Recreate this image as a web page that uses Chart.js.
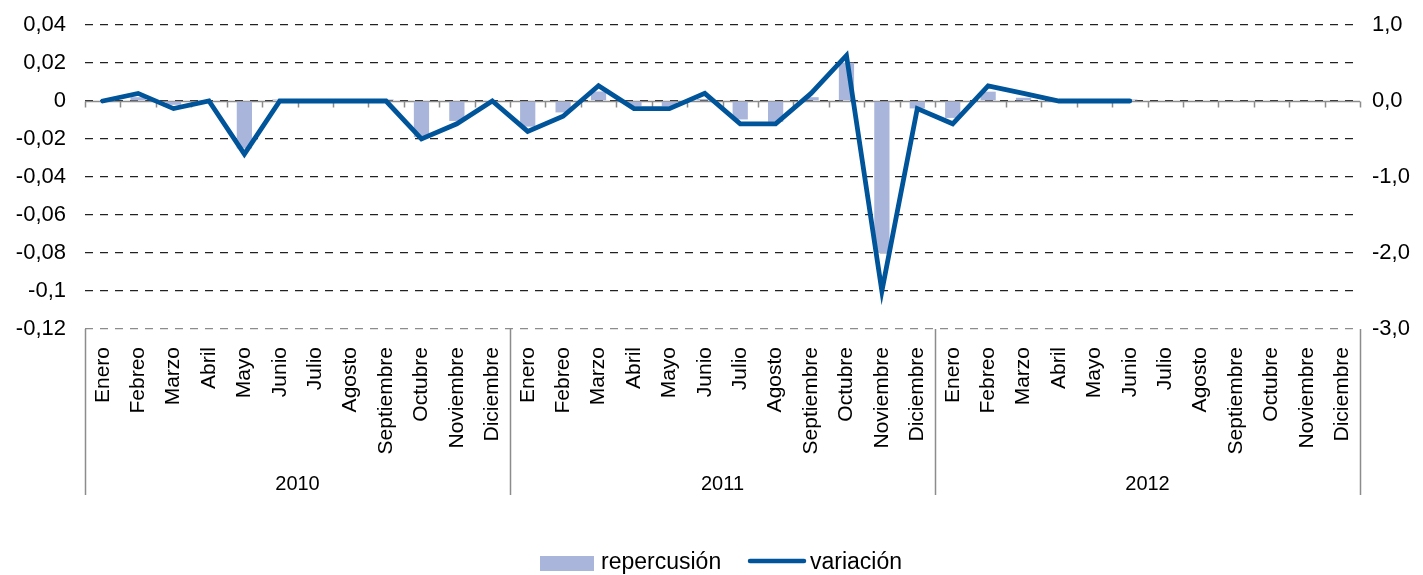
<!DOCTYPE html>
<html>
<head>
<meta charset="utf-8">
<script src="https://cdn.jsdelivr.net/npm/chart.js@4"></script>
<style>
    html, body { margin: 0; padding: 0; background: #fff; }
    #wrap { width: 1423px; height: 575px; }
</style>
</head>
<body>
<div id="wrap"><canvas id="precioChart"></canvas></div>
<script>
const years = ['2010', '2011', '2012'];
const months = ['Enero', 'Febreo', 'Marzo', 'Abril', 'Mayo', 'Junio', 'Julio', 'Agosto', 'Septiembre', 'Octubre', 'Noviembre', 'Diciembre'];

const repercusion = [
    0, 0.002, -0.002, 0, -0.025, 0.0008, 0.0008, 0.0008, 0.0008, -0.019, -0.0105, 0,
    -0.0135, -0.006, 0.005, -0.0027, -0.0027, 0.001, -0.0097, -0.011, 0.002, 0.0202, -0.08, -0.0039,
    -0.0089, 0.0049, 0.0017, 0, 0, 0.0008, null, null, null, null, null, null
];

const variacion = [
    0, 0.1, -0.1, 0, -0.7, 0, 0, 0, 0, -0.5, -0.3, 0,
    -0.4, -0.2, 0.2, -0.1, -0.1, 0.1, -0.3, -0.3, 0.1, 0.6, -2.5, -0.1,
    -0.3, 0.2, 0.1, 0, 0, 0, null, null, null, null, null, null
];

const labels = years.flatMap(() => months);

const barColor = '#A9B5DA';
const lineColor = '#00549A';
const fontFamily = '"Liberation Sans", Arial, sans-serif';

// zero axis line with category tick marks, year groups and legend
const extrasPlugin = {
    id: 'extras',
    beforeDatasetsDraw(chart) {
        const { ctx, chartArea, scales } = chart;
        const x = scales.x;
        const y0 = Math.round(scales.y.getPixelForValue(0)) + 0.5;
        ctx.save();
        ctx.strokeStyle = '#8c8c8c';
        ctx.lineWidth = 1.5;
        ctx.beginPath();
        ctx.moveTo(chartArea.left, y0);
        ctx.lineTo(chartArea.right, y0);
        for (let i = 0; i <= labels.length; i++) {
            const px = Math.round(x.getPixelForValue(i - 0.5)) + 0.5;
            ctx.moveTo(px, y0);
            ctx.lineTo(px, y0 + 6);
        }
        ctx.stroke();
        ctx.restore();
    },
    afterDraw(chart) {
        const { ctx, chartArea, scales } = chart;
        const x = scales.x;
        ctx.save();
        // year separators
        ctx.strokeStyle = '#8c8c8c';
        ctx.lineWidth = 1.5;
        ctx.beginPath();
        for (let g = 0; g <= years.length; g++) {
            const px = Math.round(x.getPixelForValue(g * 12 - 0.5)) + 0.5;
            ctx.moveTo(px, chartArea.bottom);
            ctx.lineTo(px, 495);
        }
        ctx.stroke();

        ctx.fillStyle = '#000';
        ctx.font = '20px ' + fontFamily;
        ctx.textAlign = 'center';
        ctx.textBaseline = 'middle';
        years.forEach((yr, g) => {
            const px = x.getPixelForValue(g * 12 + 5.5);
            ctx.fillText(yr, px, 484);
        });

        // legend
        ctx.fillStyle = barColor;
        ctx.fillRect(540, 556, 54, 15);
        ctx.strokeStyle = lineColor;
        ctx.lineWidth = 4.5;
        ctx.lineCap = 'round';
        ctx.beginPath();
        ctx.moveTo(750, 561);
        ctx.lineTo(804, 561);
        ctx.stroke();
        ctx.fillStyle = '#000';
        ctx.font = '23px ' + fontFamily;
        ctx.textAlign = 'left';
        ctx.textBaseline = 'middle';
        ctx.fillText('repercusión', 601, 563);
        ctx.fillText('variación', 810, 563);
        ctx.restore();
    }
};

const fitY = (w) => (scale) => {
    scale.width = w;
    scale.paddingTop = 0;
    scale.paddingBottom = 0;
};

const ctx = document.getElementById('precioChart').getContext('2d');
const precioChart = new Chart(ctx, {
    type: 'bar',
    data: {
        labels: labels,
        datasets: [{
            type: 'line',
            label: 'variación',
            data: variacion,
            yAxisID: 'y1',
            borderColor: lineColor,
            borderWidth: 4.8,
            borderCapStyle: 'round',
            pointRadius: 0,
            tension: 0,
            spanGaps: false,
            order: 0
        }, {
            type: 'bar',
            label: 'repercusión',
            data: repercusion,
            yAxisID: 'y',
            backgroundColor: barColor,
            barPercentage: 1,
            categoryPercentage: 0.43,
            order: 1
        }]
    },
    options: {
        responsive: true,
        maintainAspectRatio: false,
        animation: false,
        layout: { padding: { top: 25, left: 0, right: 0, bottom: 0 } },
        plugins: {
            legend: { display: false },
            tooltip: { enabled: false }
        },
        scales: {
            x: {
                grid: { display: false, drawTicks: false },
                border: { display: false },
                ticks: {
                    autoSkip: false,
                    minRotation: 90,
                    maxRotation: 90,
                    padding: 18,
                    color: '#000',
                    font: { family: fontFamily, size: 21 }
                },
                afterFit: (scale) => { scale.height = 246; }
            },
            y: {
                position: 'left',
                min: -0.12,
                max: 0.04,
                ticks: {
                    stepSize: 0.02,
                    padding: 19,
                    color: '#000',
                    font: { family: fontFamily, size: 22 },
                    callback: (v) => String(Math.round(v * 100) / 100).replace('.', ',')
                },
                grid: {
                    drawTicks: false,
                    color: (c) => (c.tick && c.tick.value <= -0.119) ? '#8c8c8c' : '#222',
                    lineWidth: 1.3
                },
                border: { display: false, dash: [8, 7] },
                afterFit: fitY(85)
            },
            y1: {
                position: 'right',
                min: -3,
                max: 1,
                ticks: {
                    stepSize: 1,
                    padding: 12,
                    color: '#000',
                    font: { family: fontFamily, size: 22 },
                    callback: (v) => v.toFixed(1).replace('.', ',')
                },
                grid: { display: false, drawTicks: false },
                border: { display: false },
                afterFit: fitY(63)
            }
        }
    },
    plugins: [extrasPlugin]
});
</script>
</body>
</html>
